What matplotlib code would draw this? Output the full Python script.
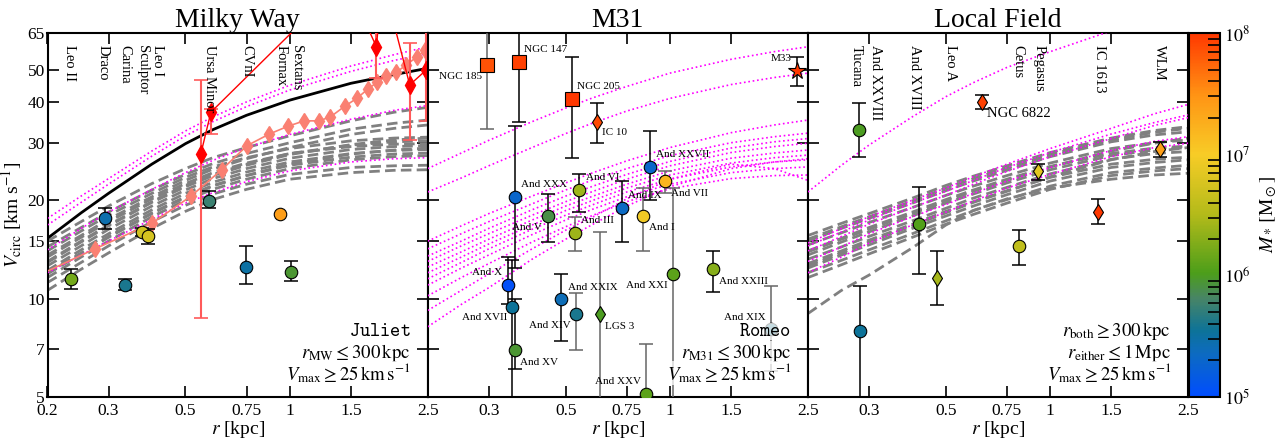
import numpy as np
import matplotlib.pyplot as plt
from matplotlib.colors import LinearSegmentedColormap, LogNorm
from matplotlib.ticker import FixedLocator, FixedFormatter, NullLocator
from matplotlib.cm import ScalarMappable

plt.rcParams['font.family'] = ['Liberation Serif', 'DejaVu Serif']
plt.rcParams['mathtext.fontset'] = 'stix'

r_grid = [0.2, 0.25, 0.3, 0.4, 0.5, 0.6, 0.75, 1.0, 1.5, 2.0, 2.5]

# ---------------- Milky Way ----------------
mw_gray = [
    [15.0, 17.2, 19.2, 22.5, 25.0, 27.0, 29.0, 31.5, 35.0, 37.2, 38.5],
    [14.4, 16.5, 18.4, 21.5, 24.0, 25.9, 27.8, 30.0, 33.0, 34.4, 35.2],
    [13.6, 15.6, 17.5, 20.5, 23.0, 24.9, 26.8, 29.0, 31.8, 33.2, 34.0],
    [14.0, 16.1, 18.0, 21.0, 23.5, 25.3, 27.0, 28.8, 30.4, 31.0, 31.2],
    [13.0, 15.0, 16.8, 19.8, 22.2, 24.0, 25.8, 27.8, 29.5, 30.2, 30.4],
    [13.4, 15.4, 17.2, 20.2, 22.5, 24.3, 26.0, 27.8, 29.2, 29.7, 29.8],
    [12.6, 14.5, 16.3, 19.2, 21.5, 23.3, 25.0, 26.9, 28.6, 29.2, 29.4],
    [12.2, 14.1, 15.8, 18.7, 21.0, 22.7, 24.4, 26.2, 27.8, 28.4, 28.6],
    [12.0, 13.8, 15.5, 18.3, 20.5, 22.2, 23.8, 25.6, 27.1, 27.7, 27.9],
    [11.6, 13.4, 15.0, 17.8, 20.0, 21.6, 23.2, 25.0, 26.6, 27.2, 27.4],
    [11.2, 12.9, 14.5, 17.2, 19.3, 20.9, 22.4, 24.0, 25.2, 25.5, 25.6],
    [10.6, 12.3, 13.8, 16.4, 18.5, 20.1, 21.6, 23.2, 24.3, 24.7, 24.8],
    [11.9, 13.7, 15.4, 18.2, 20.4, 22.1, 23.8, 25.8, 27.7, 28.5, 28.9],
    [12.9, 14.9, 16.7, 19.7, 22.0, 23.8, 25.6, 27.6, 29.6, 30.6, 31.0],
]
mw_magenta = [
    [17.6, 20.6, 23.3, 28.3, 32.6, 36.0, 40.0, 45.0, 51.5, 55.8, 59.0],
    [16.8, 19.7, 22.4, 27.3, 31.5, 34.8, 38.7, 43.5, 49.6, 53.6, 56.3],
    [14.1, 16.4, 18.4, 21.6, 24.3, 26.5, 29.0, 31.8, 35.4, 37.7, 39.0],
    [12.0, 13.6, 15.0, 17.5, 19.6, 21.1, 22.8, 24.6, 26.2, 26.8, 27.0],
]
mw_black = [15.3, 18.3, 21.0, 25.8, 29.8, 32.9, 36.4, 40.5, 45.6, 48.5, 50.7]

mw_salmon_r = [0.17, 0.274, 0.40, 0.519, 0.636, 0.753, 0.873, 0.988, 1.10, 1.215,
               1.31, 1.44, 1.56, 1.68, 1.79, 1.90, 2.03, 2.17, 2.33, 2.45]
mw_salmon_v = [11.2, 14.2, 17.0, 20.6, 24.8, 29.4, 31.9, 33.7, 35.0, 35.0,
               36.0, 38.8, 41.0, 43.8, 46.0, 48.0, 49.3, 52.0, 55.0, 57.5]

mw_red_r = [0.554, 0.592, 1.45, 1.777, 1.85, 2.217, 2.47]
mw_red_v = [27.8, 37.2, 95.0, 59.0, 95.0, 45.1, 50.0]
mw_red_lo = [8.7, 32.0, 95.0, 47.2, 95.0, 30.6, 35.0]
mw_red_hi = [46.7, 38.0, 95.0, 70.0, 95.0, 60.4, 70.0]

mw_names = ['Leo II', 'Draco', 'Carina', 'Sculptor', 'Leo I', 'Ursa Minor',
            'CVnI', 'Fornax', 'Sextans']
mw_r = [0.234, 0.293, 0.334, 0.375, 0.389, 0.585, 0.748, 0.939, 1.01]
mw_v = [11.5, 17.6, 11.0, 16.0, 15.6, 19.9, 12.5, 18.2, 12.1]
mw_vlo = [10.7, 16.3, 10.6, 15.6, 14.7, 18.9, 11.1, 18.2, 11.3]
mw_vhi = [12.3, 18.9, 11.5, 16.4, 16.3, 21.4, 14.5, 18.2, 13.0]
mw_logm = [6.2, 5.45, 5.6, 6.7, 6.75, 5.75, 5.5, 7.4, 5.95]
mw_label_r = [0.232, 0.289, 0.334, 0.375, 0.416, 0.585, 0.753, 0.945, 1.044]

# ---------------- M31 ----------------
m31_magenta = [
    [25.0, 27.9, 30.5, 34.8, 38.3, 41.2, 44.6, 49.0, 54.0, 57.0, 59.0],
    [21.2, 23.4, 25.5, 29.0, 32.0, 34.5, 37.5, 41.0, 45.2, 47.5, 49.0],
    [15.0, 16.7, 18.2, 20.6, 22.6, 24.3, 26.4, 29.0, 32.2, 34.0, 35.2],
    [14.2, 15.8, 17.2, 19.5, 21.5, 23.1, 25.0, 27.4, 30.0, 31.3, 32.1],
    [13.5, 15.0, 16.4, 18.7, 20.6, 22.1, 24.0, 26.3, 28.9, 30.2, 30.9],
    [13.0, 14.5, 15.8, 18.0, 19.8, 21.3, 23.2, 25.5, 28.0, 29.2, 29.9],
    [12.5, 13.9, 15.2, 17.4, 19.2, 20.6, 22.4, 24.6, 26.9, 27.9, 28.5],
    [12.0, 13.4, 14.7, 16.8, 18.6, 20.0, 21.8, 23.9, 26.0, 27.0, 27.5],
    [11.5, 12.9, 14.2, 16.3, 18.0, 19.4, 21.2, 23.2, 25.3, 26.2, 26.6],
    [11.0, 12.4, 13.6, 15.7, 17.4, 18.8, 20.5, 22.4, 24.3, 25.0, 25.3],
    [10.2, 11.6, 12.8, 14.9, 16.6, 18.0, 19.8, 21.7, 23.3, 23.8, 23.9],
    [9.2, 10.6, 11.9, 14.2, 16.2, 17.8, 20.2, 23.2, 25.8, 25.0, 23.0],
    [8.2, 9.6, 10.8, 13.2, 15.2, 16.9, 19.2, 22.0, 25.0, 26.2, 26.8],
]

m31_names = ['NGC 185', 'NGC 147', 'NGC 205', 'IC 10', 'M33', 'And XXVII',
             'And VII', 'And XXX', 'And V', 'And VI', 'And III', 'And IX',
             'And I', 'And XXI', 'And XXIII', 'And X', 'And XVII', 'And XV',
             'And XIV', 'And XXIX', 'LGS 3', 'And XXV', 'And XIX']
m31_kind = ['dE', 'dE', 'dE', 'dIrr', 'spiral', 'dSph',
            'dSph', 'dSph', 'dSph', 'dSph', 'dSph', 'dSph',
            'dSph', 'dSph', 'dSph', 'dSph', 'dSph', 'dSph',
            'dSph', 'dSph', 'dIrr', 'dSph', 'dSph']
m31_r = [0.297, 0.366, 0.52, 0.614, 2.32, 0.877,
         0.970, 0.358, 0.444, 0.547, 0.532, 0.727,
         0.838, 1.022, 1.33, 0.340, 0.351, 0.356,
         0.484, 0.535, 0.627, 0.853, 1.955]
m31_v = [51.9, 52.9, 40.8, 34.8, 49.7, 25.2,
         22.9, 20.5, 17.9, 21.5, 15.9, 18.9,
         17.9, 11.9, 12.3, 11.0, 9.45, 6.97,
         10.0, 8.95, 8.95, 5.09, 8.1]
m31_vlo = [33.0, 34.8, 26.9, 29.9, 44.8, 20.0,
           21.0, 12.4, 14.9, 18.4, 14.0, 14.9,
           14.0, 3.0, 10.5, 9.6, 3.0, 6.1,
           7.4, 6.95, 3.0, 3.0, 6.0]
m31_vhi = [80.0, 80.0, 54.8, 39.8, 54.8, 32.6,
           24.6, 33.7, 20.9, 24.0, 17.8, 22.9,
           21.8, 21.8, 14.0, 13.4, 13.1, 10.0,
           11.9, 10.4, 16.0, 7.26, 10.9]
m31_logm = [7.85, 7.95, 8.0, 7.9, 8.5, 5.3,
            7.2, 5.3, 5.9, 6.4, 6.4, 5.35,
            6.95, 6.1, 6.3, 5.05, 5.55, 5.95,
            5.4, 5.6, 6.0, 6.1, 5.6]
# label offsets from the marker, in points, and alignment
m31_lab_dx = [-4, 4, 4, 4, -4, 4, 4, 4, -4, 5, 4, 4, 4, -4, 4, -4, -4, 4, 7, -6, 4, -4, -4]
m31_lab_dy = [-8, 9, 9, -8, 9, 9, -9, 9, -8, 9, 9, 9, -8, -8, -9, 9, -8, -9, -19, 19, -9, 9, 8]
m31_lab_ha = ['right', 'left', 'left', 'left', 'right', 'left', 'left', 'left', 'right',
              'left', 'left', 'left', 'left', 'right', 'left', 'right', 'right', 'left',
              'right', 'left', 'left', 'right', 'right']
m31_gray_err = ['NGC 185', 'And I', 'And III', 'And XXI', 'And XXIX', 'LGS 3',
                'And XXV', 'And XIX', 'And VII']

# ---------------- Local Field ----------------
lf_gray = [
    [15.6, 17.0, 18.2, 20.3, 22.2, 23.7, 25.5, 28.0, 31.0, 32.7, 33.6],
    [15.0, 16.4, 17.6, 19.6, 21.4, 22.9, 24.7, 27.2, 30.2, 31.7, 32.4],
    [15.2, 16.6, 17.8, 19.9, 21.8, 23.3, 25.1, 27.6, 30.6, 32.3, 33.2],
    [14.6, 15.9, 17.1, 19.0, 20.7, 22.1, 23.8, 26.0, 28.8, 30.0, 30.6],
    [14.0, 15.3, 16.5, 18.4, 20.1, 21.5, 23.2, 25.4, 27.8, 28.9, 29.3],
    [13.9, 15.2, 16.3, 18.2, 19.9, 21.3, 23.0, 25.3, 28.3, 29.9, 31.0],
    [13.6, 14.9, 16.0, 17.9, 19.6, 20.9, 22.6, 24.8, 27.4, 28.5, 29.0],
    [13.2, 14.4, 15.5, 17.3, 18.9, 20.3, 21.9, 24.1, 26.7, 27.8, 28.2],
    [12.6, 13.8, 14.9, 16.7, 18.3, 19.7, 21.3, 23.6, 26.6, 28.2, 29.0],
    [12.8, 14.0, 15.1, 16.9, 18.5, 19.8, 21.4, 23.5, 25.8, 26.7, 27.1],
    [12.4, 13.6, 14.6, 16.4, 17.9, 19.2, 20.8, 22.9, 25.2, 26.1, 26.6],
    [12.0, 13.1, 14.1, 15.8, 17.3, 18.6, 20.1, 22.1, 24.3, 25.1, 25.6],
    [11.6, 12.7, 13.7, 15.4, 16.9, 18.1, 19.6, 21.6, 23.8, 24.6, 25.0],
    [9.0, 10.6, 11.8, 14.3, 16.8, 18.6, 20.2, 21.8, 23.2, 23.9, 24.2],
]
lf_magenta = [
    [21.2, 25.6, 29.5, 36.0, 41.5, 45.8, 51.0, 57.0, 66.0, 72.0, 77.0],
    [14.8, 16.4, 17.8, 20.0, 21.8, 23.6, 25.8, 28.8, 33.2, 36.8, 39.3],
    [14.5, 16.0, 17.4, 19.6, 21.3, 23.0, 25.2, 28.0, 31.9, 34.6, 36.5],
    [14.0, 15.5, 16.9, 19.0, 20.7, 22.4, 24.5, 27.2, 30.9, 33.9, 35.8],
    [13.0, 14.4, 15.8, 17.8, 19.4, 21.0, 22.9, 25.2, 28.4, 30.3, 31.3],
    [12.0, 13.4, 14.8, 16.8, 18.4, 19.9, 21.8, 24.0, 27.2, 29.0, 29.9],
]

lf_names = ['Tucana', 'And XXVIII', 'And XVIII', 'Leo A', 'NGC 6822', 'Cetus',
            'Pegasus', 'IC 1613', 'WLM']
lf_kind = ['dSph', 'dSph', 'dSph', 'dIrr', 'dIrr', 'dSph', 'dIrr', 'dIrr', 'dIrr']
lf_r = [0.280, 0.283, 0.418, 0.472, 0.635, 0.813, 0.923, 1.372, 2.07]
lf_v = [32.8, 7.96, 16.9, 11.6, 40.0, 14.5, 24.5, 18.4, 28.7]
lf_vlo = [27.2, 3.0, 11.9, 9.55, 38.0, 12.7, 23.0, 16.9, 27.2]
lf_vhi = [39.7, 10.9, 21.9, 14.0, 41.9, 16.2, 25.9, 20.2, 30.2]
lf_logm = [6.0, 5.55, 6.05, 6.45, 7.95, 6.6, 6.85, 8.0, 7.4]
lf_label_r = [0.276, 0.313, 0.406, 0.514, None, 0.804, 0.928, 1.387, 2.07]

xticks = [0.2, 0.3, 0.5, 0.75, 1, 1.5, 2.5]
xticklabels = ['0.2', '0.3', '0.5', '0.75', '1', '1.5', '2.5']
yticks = [5, 7, 10, 15, 20, 30, 40, 50, 65]

# ---------------- styling ----------------
cmap = LinearSegmentedColormap.from_list('mstar', [
    (0.00, (0.00, 0.30, 1.00)),
    (0.12, (0.05, 0.42, 0.75)),
    (0.18, (0.05, 0.45, 0.60)),
    (0.27, (0.28, 0.52, 0.40)),
    (0.34, (0.30, 0.62, 0.10)),
    (0.50, (0.70, 0.73, 0.10)),
    (0.667, (0.97, 0.80, 0.15)),
    (0.83, (1.00, 0.58, 0.08)),
    (1.00, (1.00, 0.22, 0.00)),
])
norm = LogNorm(1e5, 1e8)
kind_marker = {'dSph': ('o', 9), 'dIrr': ('d', 8.5), 'dE': ('s', 9.5), 'spiral': ('*', 13)}

gray_ls = (0, (3.8, 1.9))

fig = plt.figure(figsize=(12.8, 4.43), dpi=100)
W = 380.3 / 1280
B = 46 / 443
H = 364 / 443
axes = [fig.add_axes([x0 / 1280, B, W, H]) for x0 in (47.5, 427.7, 807.9)]
cax = fig.add_axes([1189 / 1280, B, 31 / 1280, H])


def setup(ax, title, first):
    ax.set_xscale('log')
    ax.set_yscale('log')
    ax.set_xlim(0.2, 2.5)
    ax.set_ylim(5, 65)
    ax.xaxis.set_major_locator(FixedLocator(xticks))
    labs = list(xticklabels) if first else [''] + xticklabels[1:]
    ax.xaxis.set_major_formatter(FixedFormatter(labs))
    ax.yaxis.set_major_locator(FixedLocator(yticks))
    if first:
        ax.yaxis.set_major_formatter(FixedFormatter([str(t) for t in yticks]))
    else:
        ax.yaxis.set_major_formatter(FixedFormatter([''] * len(yticks)))
    ax.xaxis.set_minor_locator(NullLocator())
    ax.yaxis.set_minor_locator(NullLocator())
    ax.tick_params(which='both', direction='in', top=True, right=True,
                   length=8, width=1.2, labelsize=12.5)
    ax.tick_params(axis='x', pad=4)
    ax.tick_params(axis='y', pad=2)
    for s in ax.spines.values():
        s.set_linewidth(1.5)
    ax.set_title(title, fontsize=20, pad=3)
    ax.set_xlabel(r'$r$ [kpc]', fontsize=14, labelpad=0)


def mcolor(logm):
    return cmap(norm(10 ** logm))


def draw_points(ax, names, r, v, lo, hi, logm, kinds, gray_err=()):
    for n, ri, vi, l, h, m, k in zip(names, r, v, lo, hi, logm, kinds):
        ec = '0.4' if n in gray_err else 'k'
        if h > l:
            ax.errorbar(ri, vi, yerr=[[vi - l], [h - vi]], fmt='none', ecolor=ec,
                        elinewidth=1.1, capsize=5, capthick=1.1, zorder=4)
        mk, ms = kind_marker[k]
        ax.plot(ri, vi, marker=mk, ms=ms, mfc=mcolor(m), mec='k', mew=0.8,
                ls='none', zorder=5)


def corner_text(ax, lines):
    ys = [0.180, 0.122, 0.066]
    for (txt, mono), y in zip(lines, ys):
        kw = dict(transform=ax.transAxes, ha='right', va='center', zorder=7,
                  bbox=dict(fc='white', ec='none', alpha=0.75, pad=0.1))
        if mono:
            ax.text(0.955, y, r'$\mathtt{' + txt + '}$', fontsize=14,
                    math_fontfamily='cm', **kw)
        else:
            ax.text(0.955, y, txt, fontsize=13.5, **kw)


# ---- Milky Way panel ----
ax = axes[0]
setup(ax, 'Milky Way', True)
for c in mw_gray:
    ax.plot(r_grid, c, color='gray', lw=2, ls=gray_ls, zorder=2)
for c in mw_magenta:
    ax.plot(r_grid, c, color='magenta', lw=1.2, ls=':', zorder=3)
ax.plot(r_grid, mw_black, color='k', lw=2, zorder=3)
ax.plot(mw_salmon_r, mw_salmon_v, color='salmon', lw=1.2, marker='d', ms=8.5,
        mfc='salmon', mec='salmon', zorder=3)
red_err_lo = [v - l for v, l in zip(mw_red_v, mw_red_lo)]
red_err_hi = [h - v for v, h in zip(mw_red_v, mw_red_hi)]
ax.errorbar(mw_red_r, mw_red_v, yerr=[red_err_lo, red_err_hi], fmt='none',
            ecolor='#ff5a5a', elinewidth=1.5, capsize=5, capthick=1.2, zorder=3)
ax.plot(mw_red_r, mw_red_v, color='red', lw=1, marker='d', ms=9, mfc='red',
        mec='red', zorder=4)
draw_points(ax, mw_names, mw_r, mw_v, mw_vlo, mw_vhi, mw_logm, ['dSph'] * len(mw_names))
for n, lr in zip(mw_names, mw_label_r):
    ax.text(lr, 0.967, n, transform=ax.get_xaxis_transform(), rotation=270,
            ha='center', va='top', fontsize=10.5, zorder=6)
ax.set_ylabel(r'$V_{\rm circ}$ [km s$^{-1}$]', fontsize=14)
ax.yaxis.set_label_coords(-0.062, 0.5)
corner_text(ax, [('Juliet', True),
                 (r'$r_{\rm MW} \leq 300\,{\rm kpc}$', False),
                 (r'$V_{\rm max} \geq 25\,{\rm km\,s}^{-1}$', False)])

# ---- M31 panel ----
ax = axes[1]
setup(ax, 'M31', False)
for c in m31_magenta:
    ax.plot(r_grid, c, color='magenta', lw=1.2, ls=':', zorder=3)
draw_points(ax, m31_names, m31_r, m31_v, m31_vlo, m31_vhi, m31_logm, m31_kind,
            m31_gray_err)
for n, ri, vi, dx, dy, ha in zip(m31_names, m31_r, m31_v, m31_lab_dx, m31_lab_dy, m31_lab_ha):
    ax.annotate(n, (ri, vi), xytext=(dx, dy), textcoords='offset points',
                ha=ha, va='center', fontsize=8, zorder=6)
corner_text(ax, [('Romeo', True),
                 (r'$r_{\rm M31} \leq 300\,{\rm kpc}$', False),
                 (r'$V_{\rm max} \geq 25\,{\rm km\,s}^{-1}$', False)])

# ---- Local Field panel ----
ax = axes[2]
setup(ax, 'Local Field', False)
for c in lf_gray:
    ax.plot(r_grid, c, color='gray', lw=2, ls=gray_ls, zorder=2)
for c in lf_magenta:
    ax.plot(r_grid, c, color='magenta', lw=1.2, ls=':', zorder=3)
draw_points(ax, lf_names, lf_r, lf_v, lf_vlo, lf_vhi, lf_logm, lf_kind)
for n, lr in zip(lf_names, lf_label_r):
    if lr is not None:
        ax.text(lr, 0.967, n, transform=ax.get_xaxis_transform(), rotation=270,
                ha='center', va='top', fontsize=10.5)
ax.annotate('NGC 6822', (lf_r[4], lf_v[4]), xytext=(4, -8), textcoords='offset points',
            ha='left', va='center', fontsize=10.5)
corner_text(ax, [(r'$r_{\rm both} \geq 300\,{\rm kpc}$', False),
                 (r'$r_{\rm either} \leq 1\,{\rm Mpc}$', False),
                 (r'$V_{\rm max} \geq 25\,{\rm km\,s}^{-1}$', False)])

# ---- colour bar ----
sm = ScalarMappable(norm=norm, cmap=cmap)
cb = fig.colorbar(sm, cax=cax)
cb.set_ticks([1e5, 1e6, 1e7, 1e8])
cb.set_ticklabels([r'$10^5$', r'$10^6$', r'$10^7$', r'$10^8$'])
cax.tick_params(which='major', direction='in', length=0, labelsize=13, pad=3)
cax.tick_params(which='minor', direction='in', length=9, width=1.2, color='k')
cb.outline.set_linewidth(1.5)
cb.set_label(r'$M_*\,[{\rm M}_\odot]$', fontsize=14, labelpad=6)

fig.savefig('out.png', dpi=100)
